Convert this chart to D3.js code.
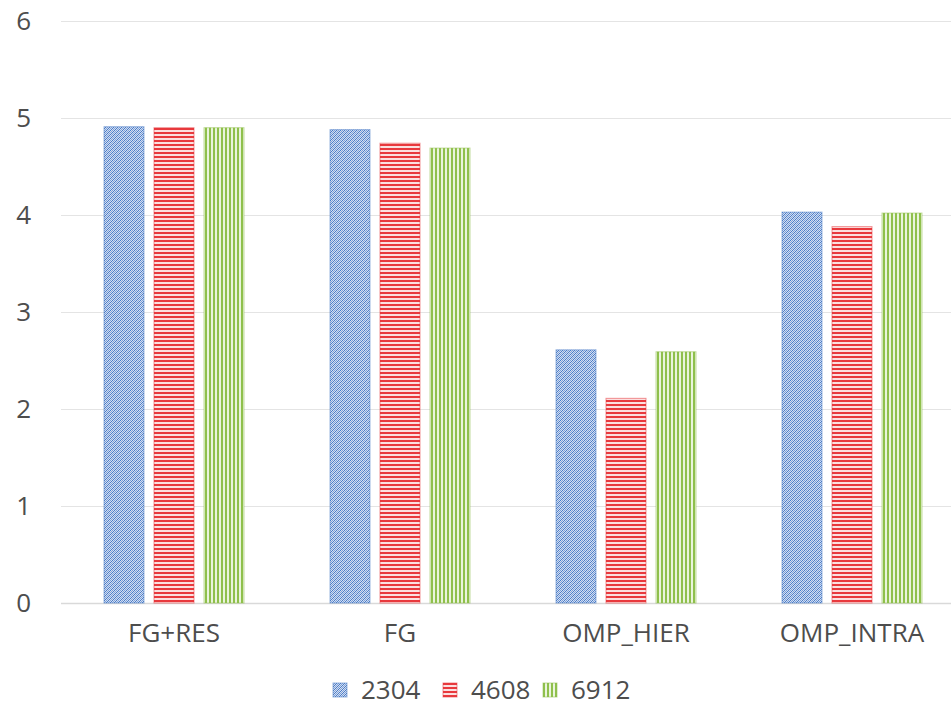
<!DOCTYPE html>
<html>
<head>
<meta charset="utf-8">
<script src="https://cdn.jsdelivr.net/npm/d3@7"></script>
<style>
  html, body { margin: 0; padding: 0; background: #fff; }
  svg { display: block; }
  text { font-family: "Open Sans", Lato, sans-serif; fill: #4d4d4d; }
</style>
</head>
<body>
<svg id="chart" width="951" height="708"></svg>
<script>
// Run times per method for three problem sizes
const categories = ["FG+RES", "FG", "OMP_HIER", "OMP_INTRA"];
const seriesNames = ["2304", "4608", "6912"];
const values2304 = [4.91, 4.88, 2.61, 4.03];
const values4608 = [4.90, 4.74, 2.11, 3.88];
const values6912 = [4.90, 4.69, 2.59, 4.02];
const yTicks = [0, 1, 2, 3, 4, 5, 6];

const seriesValues = [values2304, values4608, values6912];
const colors = ["#4a7cc7", "#e8393d", "#8fc04c"];

const svg = d3.select("#chart");
const W = 951, H = 708;
const margin = { left: 61, right: -14, top: 21, bottom: 105 };
const FONT = "26px";
const TEXT = "#4d4d4d";

const x = d3.scaleBand()
  .domain(categories)
  .range([margin.left, W - margin.right])
  .paddingInner(0).paddingOuter(0);

// three bars of width 40 with 10px gaps, starting 43px into each band
const xInner = d3.scaleBand()
  .domain(seriesNames)
  .range([43, 183])
  .paddingInner(0.2);

const y = d3.scaleLinear().domain([0, 6]).range([H - margin.bottom, margin.top]);

// Fill patterns
const defs = svg.append("defs");
// small diagonal weave (blue)
const p0 = defs.append("pattern").attr("id", "pat0").attr("patternUnits", "userSpaceOnUse")
  .attr("width", 4).attr("height", 4);
p0.append("rect").attr("width", 4).attr("height", 4).attr("fill", "#d3def1");
[[0, 3], [1, 2], [2, 1], [3, 0], [0, 1], [1, 0], [2, 3], [3, 2]].forEach(([px, py], k) => {
  p0.append("rect").attr("x", px).attr("y", py).attr("width", 1).attr("height", 1)
    .attr("fill", k < 4 ? colors[0] : "#7ea1d8");
});
// horizontal stripes (red)
const p1 = defs.append("pattern").attr("id", "pat1").attr("patternUnits", "userSpaceOnUse")
  .attr("width", 4).attr("height", 4);
p1.append("rect").attr("width", 4).attr("height", 4).attr("fill", "#fbe0e0");
p1.append("rect").attr("y", 0).attr("width", 4).attr("height", 2).attr("fill", colors[1]);
// vertical stripes (green)
const p2 = defs.append("pattern").attr("id", "pat2").attr("patternUnits", "userSpaceOnUse")
  .attr("width", 4).attr("height", 4);
p2.append("rect").attr("width", 4).attr("height", 4).attr("fill", "#eaf4dc");
p2.append("rect").attr("x", 0).attr("width", 2).attr("height", 4).attr("fill", colors[2]);

// Gridlines
svg.append("g").selectAll("line").data(yTicks).join("line")
  .attr("x1", margin.left).attr("x2", W)
  .attr("y1", d => Math.round(y(d)) + 0.5).attr("y2", d => Math.round(y(d)) + 0.5)
  .attr("stroke", d => d === 0 ? "#d9d9d9" : "#e4e4e4")
  .attr("stroke-width", d => d === 0 ? 1.5 : 1);

// Y axis labels
const yAxis = d3.axisLeft(y).tickValues(yTicks).tickSize(0).tickPadding(0).tickFormat(d3.format("d"));
const gy = svg.append("g").attr("transform", "translate(31,0)").call(yAxis);
gy.select(".domain").remove();
gy.selectAll("text").style("font-size", FONT).attr("fill", TEXT)
  .style("font-family", "'Open Sans', Lato, sans-serif");

// Bars
const groups = svg.append("g").selectAll("g").data(categories).join("g")
  .attr("transform", d => `translate(${x(d)},0)`);
seriesNames.forEach((s, si) => {
  groups.append("rect")
    .attr("x", () => xInner(s))
    .attr("y", (d, i) => y(seriesValues[si][i]))
    .attr("width", xInner.bandwidth())
    .attr("height", (d, i) => y(0) - y(seriesValues[si][i]))
    .attr("fill", `url(#pat${si})`)
    .attr("stroke", colors[si]).attr("stroke-opacity", 0.55).attr("stroke-width", 1);
});

// X axis labels
const xAxis = d3.axisBottom(x).tickSize(0).tickPadding(0);
const gx = svg.append("g").attr("transform", `translate(0,${H - margin.bottom + 21})`).call(xAxis);
gx.select(".domain").remove();
gx.selectAll("text").style("font-size", FONT).attr("fill", TEXT)
  .style("font-family", "'Open Sans', Lato, sans-serif").attr("dy", "0.71em");

// Legend
const legendX = [333, 443, 543];
const legend = svg.append("g").selectAll("g").data(seriesNames).join("g")
  .attr("transform", (d, i) => `translate(${legendX[i]},683)`);
legend.append("rect").attr("width", 14).attr("height", 14)
  .attr("fill", (d, i) => `url(#pat${i})`)
  .attr("stroke", (d, i) => colors[i]).attr("stroke-opacity", 0.55);
legend.append("text").attr("x", 28).attr("y", 7).attr("dy", "0.35em")
  .style("font-size", FONT).text(d => d);
</script>
</body>
</html>
